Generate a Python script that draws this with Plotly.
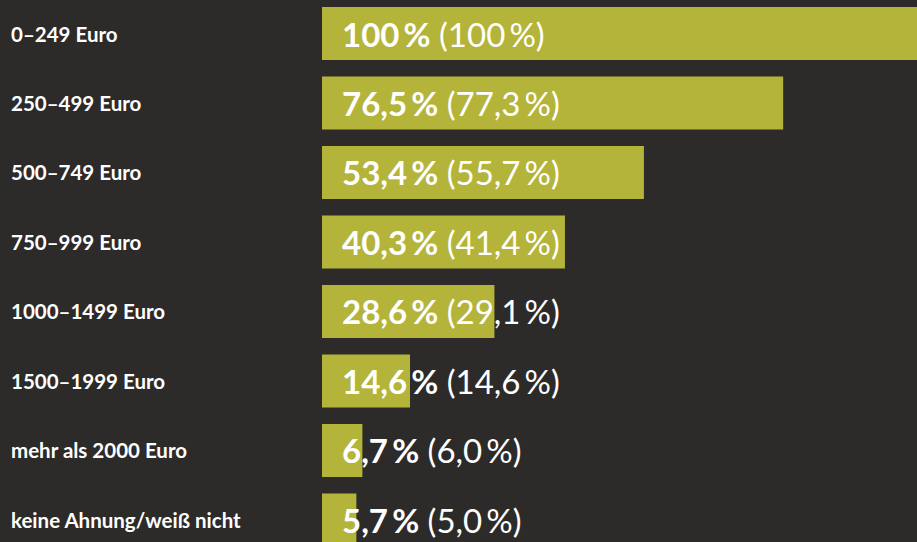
import plotly.graph_objects as go

categories = [
    "0–249 Euro",
    "250–499 Euro",
    "500–749 Euro",
    "750–999 Euro",
    "1000–1499 Euro",
    "1500–1999 Euro",
    "mehr als 2000 Euro",
    "keine Ahnung/weiß nicht",
]
values = [100, 76.5, 53.4, 40.3, 28.6, 14.6, 6.7, 5.7]
previous = [100, 77.3, 55.7, 41.4, 29.1, 14.6, 6.0, 5.0]

BG = "#2d2b2a"
BAR = "#b5b43a"
FONT = "Source Sans Pro, Lato, Noto Sans, sans-serif"


def fmt(v):
    s = "100" if v == 100 else f"{v:.1f}".replace(".", ",")
    return s + "\u2009%"


idx = list(range(len(categories)))

fig = go.Figure(
    go.Bar(
        x=values,
        y=idx,
        orientation="h",
        width=0.763,
        marker=dict(color=BAR, line=dict(width=0)),
        hoverinfo="skip",
    )
)

annotations = []
for i, (cat, v, p) in enumerate(zip(categories, values, previous)):
    # category label, left-aligned in the margin
    annotations.append(dict(
        x=0, xref="paper", xshift=-313, y=i, yref="y",
        text=f"<b>{cat}</b>", showarrow=False, xanchor="left",
        font=dict(family=FONT, size=20.5, color="white"),
    ))
    # current share in bold, previous share in brackets
    annotations.append(dict(
        x=0, xref="x", xshift=18, y=i, yref="y",
        text=f"<b>{fmt(v)}</b> ({fmt(p)})", showarrow=False, xanchor="left",
        font=dict(family=FONT, size=33, color="white"),
    ))

fig.update_layout(
    width=917, height=542,
    margin=dict(l=322, r=0, t=0, b=0),
    paper_bgcolor=BG, plot_bgcolor=BG,
    showlegend=False,
    xaxis=dict(range=[0, 98.7], visible=False, fixedrange=True),
    yaxis=dict(range=[7.317, -0.482], visible=False, fixedrange=True),
    annotations=annotations,
)

fig.write_html("out.html")
